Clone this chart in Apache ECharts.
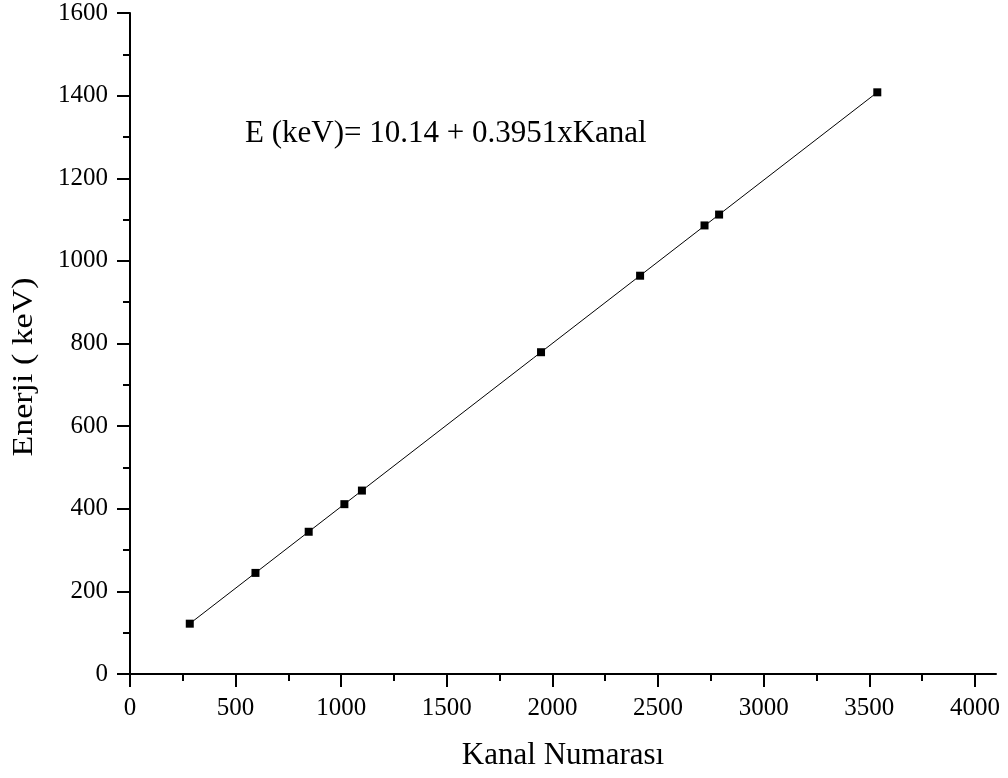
<!DOCTYPE html>
<html>
<head>
<meta charset="utf-8">
<script src="https://cdn.jsdelivr.net/npm/echarts@6/dist/echarts.min.js"></script>
<style>
  html, body { margin: 0; padding: 0; background: #fff; }
  #chart { width: 1008px; height: 778px; }
</style>
</head>
<body>
<div id="chart"></div>
<script>
// Calibration points: channel number vs. gamma energy (keV)
const channels = [283, 594, 846, 1015, 1098, 1946, 2415, 2720, 2789, 3538];
const energies = [121.8, 244.7, 344.3, 411.1, 444.0, 778.9, 964.1, 1085.8, 1112.1, 1408.0];

// Linear calibration: E (keV) = intercept + slope * channel
const intercept = 10.14;
const slope = 0.3951;

// Axis tick positions
const xMajorTicks = [0, 500, 1000, 1500, 2000, 2500, 3000, 3500, 4000];
const xMinorTicks = [250, 750, 1250, 1750, 2250, 2750, 3250, 3750];
const yTicks = [0, 200, 400, 600, 800, 1000, 1200, 1400, 1600];

const FONT = '"Liberation Serif", "Times New Roman", serif';

const points = channels.map((c, i) => [c, energies[i]]);
const xFirst = channels[0];
const xLast = channels[channels.length - 1];
const fitLine = [
  [xFirst, intercept + slope * xFirst],
  [xLast, intercept + slope * xLast]
];

const chart = echarts.init(document.getElementById('chart'), null, { renderer: 'canvas' });

const axisLineStyle = { color: '#000', width: 2 };
const plain = v => String(v);

chart.setOption({
  animation: false,
  backgroundColor: '#fff',
  grid: { left: 130, top: 13, right: 12, bottom: 104 },
  xAxis: [
    {
      type: 'value',
      min: 0,
      max: 4100,
      interval: 500,
      position: 'bottom',
      axisLine: { show: true, onZero: false, lineStyle: axisLineStyle },
      axisTick: { show: true, length: 13, lineStyle: { color: '#000', width: 2 }, customValues: xMajorTicks },
      axisLabel: {
        show: true, margin: 22, color: '#000', fontFamily: FONT, fontSize: 25,
        customValues: xMajorTicks, formatter: plain
      },
      splitLine: { show: false }
    },
    {
      type: 'value',
      min: 0,
      max: 4100,
      position: 'bottom',
      axisLine: { show: false, onZero: false },
      axisTick: { show: true, length: 7, lineStyle: { color: '#000', width: 2 }, customValues: xMinorTicks },
      axisLabel: { show: false },
      splitLine: { show: false }
    }
  ],
  yAxis: {
    type: 'value',
    min: 0,
    max: 1600,
    interval: 200,
    axisLine: { show: true, onZero: false, lineStyle: axisLineStyle },
    axisTick: { show: true, length: 13, lineStyle: { color: '#000', width: 2 }, customValues: yTicks },
    minorTick: { show: true, splitNumber: 2, length: 7, lineStyle: { color: '#000', width: 2 } },
    axisLabel: {
      show: true, margin: 22, color: '#000', fontFamily: FONT, fontSize: 25,
      customValues: yTicks, formatter: plain
    },
    splitLine: { show: false },
    minorSplitLine: { show: false }
  },
  series: [
    {
      name: 'fit',
      type: 'line',
      xAxisIndex: 0,
      data: fitLine,
      symbol: 'none',
      lineStyle: { color: '#000', width: 1 },
      z: 2
    },
    {
      name: 'data',
      type: 'scatter',
      xAxisIndex: 0,
      data: points,
      symbol: 'rect',
      symbolSize: 8,
      itemStyle: { color: '#000', opacity: 1 },
      z: 3
    }
  ],
  graphic: [
    {
      type: 'text',
      x: 245,
      y: 134,
      style: {
        text: 'E (keV)= ' + intercept.toFixed(2) + ' + ' + slope.toFixed(4) + 'xKanal',
        font: '31px ' + FONT,
        fill: '#000',
        verticalAlign: 'middle'
      }
    },
    {
      type: 'text',
      x: 563,
      y: 756,
      style: {
        text: 'Kanal Numarası',
        font: '31px ' + FONT,
        fill: '#000',
        align: 'center',
        verticalAlign: 'middle'
      }
    },
    {
      type: 'text',
      x: 24,
      y: 367,
      rotation: Math.PI / 2,
      scaleX: 1.13,
      style: {
        text: 'Enerji ( keV)',
        font: '30px ' + FONT,
        fill: '#000',
        align: 'center',
        verticalAlign: 'middle'
      }
    }
  ]
});
</script>
</body>
</html>
